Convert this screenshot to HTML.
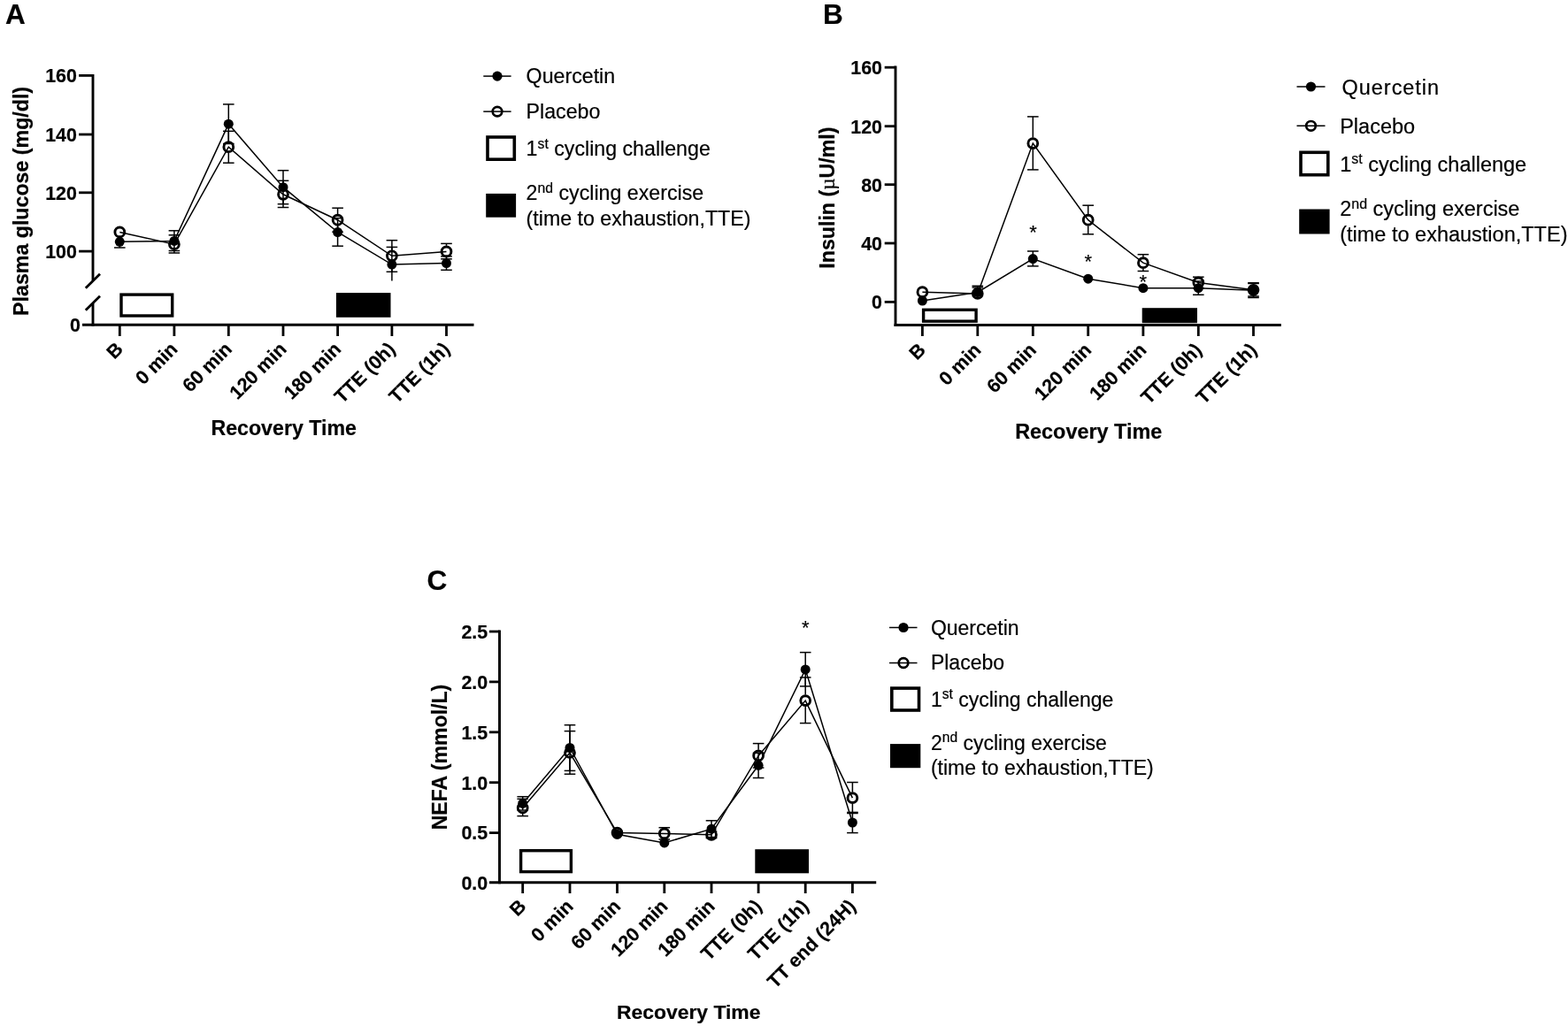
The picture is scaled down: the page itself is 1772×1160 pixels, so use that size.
<!DOCTYPE html>
<html lang="en">
<head>
<meta charset="utf-8">
<title>Figure: plasma glucose, insulin and NEFA during recovery</title>
<style>
html,body{margin:0;padding:0;background:#fff;}
body{width:1772px;height:1160px;overflow:hidden;}
svg{display:block;}
text{white-space:pre;stroke:#000;stroke-width:0.2px;stroke-linejoin:round;}
.b{font-weight:bold;}
.n{font-weight:normal;}
</style>
</head>
<body>
<svg role="img" aria-label="Plasma glucose, insulin and NEFA during recovery: quercetin versus placebo" width="1772" height="1160" viewBox="0 0 1772 1160" font-family='"Liberation Sans", Arial, Helvetica, sans-serif' fill="#000">
<rect width="1772" height="1160" fill="#fff"/>
<g id="panelA">
<text class="b" x="6.00" y="27.40" font-size="31.5" text-anchor="start" >A</text>
<line x1="105.00" y1="84.00" x2="105.00" y2="317.50" stroke="#000" stroke-width="2.9" />
<line x1="105.00" y1="343.00" x2="105.00" y2="368.75" stroke="#000" stroke-width="2.9" />
<line x1="96.80" y1="325.80" x2="113.00" y2="309.80" stroke="#000" stroke-width="2.8" />
<line x1="96.80" y1="350.80" x2="113.00" y2="334.80" stroke="#000" stroke-width="2.8" />
<line x1="93.00" y1="367.30" x2="535.50" y2="367.30" stroke="#000" stroke-width="2.9" />
<line x1="89.10" y1="85.40" x2="105.00" y2="85.40" stroke="#000" stroke-width="2.8" />
<text class="b" x="86.90" y="93.20" font-size="21.4" text-anchor="end" >160</text>
<line x1="89.10" y1="152.00" x2="105.00" y2="152.00" stroke="#000" stroke-width="2.8" />
<text class="b" x="86.90" y="159.80" font-size="21.4" text-anchor="end" >140</text>
<line x1="89.10" y1="217.80" x2="105.00" y2="217.80" stroke="#000" stroke-width="2.8" />
<text class="b" x="86.90" y="225.60" font-size="21.4" text-anchor="end" >120</text>
<line x1="89.10" y1="284.10" x2="105.00" y2="284.10" stroke="#000" stroke-width="2.8" />
<text class="b" x="86.90" y="291.90" font-size="21.4" text-anchor="end" >100</text>
<text class="b" x="91.00" y="375.10" font-size="21.4" text-anchor="end" >0</text>
<line x1="135.30" y1="367.30" x2="135.30" y2="380.00" stroke="#000" stroke-width="2.8" />
<line x1="196.90" y1="367.30" x2="196.90" y2="380.00" stroke="#000" stroke-width="2.8" />
<line x1="258.30" y1="367.30" x2="258.30" y2="380.00" stroke="#000" stroke-width="2.8" />
<line x1="320.00" y1="367.30" x2="320.00" y2="380.00" stroke="#000" stroke-width="2.8" />
<line x1="381.60" y1="367.30" x2="381.60" y2="380.00" stroke="#000" stroke-width="2.8" />
<line x1="442.90" y1="367.30" x2="442.90" y2="380.00" stroke="#000" stroke-width="2.8" />
<line x1="504.50" y1="367.30" x2="504.50" y2="380.00" stroke="#000" stroke-width="2.8" />
<text class="b" x="140.30" y="396.00" font-size="21.6" text-anchor="end" transform="rotate(-45 140.30 396.00)" >B</text>
<text class="b" x="201.90" y="396.00" font-size="21.6" text-anchor="end" transform="rotate(-45 201.90 396.00)" >0 min</text>
<text class="b" x="263.30" y="396.00" font-size="21.6" text-anchor="end" transform="rotate(-45 263.30 396.00)" >60 min</text>
<text class="b" x="325.00" y="396.00" font-size="21.6" text-anchor="end" transform="rotate(-45 325.00 396.00)" >120 min</text>
<text class="b" x="386.60" y="396.00" font-size="21.6" text-anchor="end" transform="rotate(-45 386.60 396.00)" >180 min</text>
<text class="b" x="447.90" y="396.00" font-size="21.6" text-anchor="end" transform="rotate(-45 447.90 396.00)" >TTE (0h)</text>
<text class="b" x="509.50" y="396.00" font-size="21.6" text-anchor="end" transform="rotate(-45 509.50 396.00)" >TTE (1h)</text>
<text class="b" x="320.70" y="492.00" font-size="23.2" text-anchor="middle" >Recovery Time</text>
<text class="b" x="32.20" y="227.40" font-size="23.2" text-anchor="middle" transform="rotate(-90 32.20 227.40)" >Plasma glucose (mg/dl)</text>
<rect x="137.00" y="333.10" width="57.70" height="23.90" fill="#fff" stroke="#000" stroke-width="3.4"/>
<rect x="379.90" y="331.10" width="61.60" height="27.70" fill="#000"/>
<line x1="135.30" y1="273.30" x2="135.30" y2="280.00" stroke="#000" stroke-width="1.5" />
<line x1="129.00" y1="280.00" x2="141.60" y2="280.00" stroke="#000" stroke-width="1.5" />
<line x1="196.90" y1="272.40" x2="196.90" y2="260.80" stroke="#000" stroke-width="1.5" />
<line x1="190.60" y1="260.80" x2="203.20" y2="260.80" stroke="#000" stroke-width="1.5" />
<line x1="196.90" y1="272.40" x2="196.90" y2="283.50" stroke="#000" stroke-width="1.5" />
<line x1="190.60" y1="283.50" x2="203.20" y2="283.50" stroke="#000" stroke-width="1.5" />
<line x1="196.90" y1="269.65" x2="196.90" y2="265.80" stroke="#000" stroke-width="1.5" />
<line x1="190.60" y1="265.80" x2="203.20" y2="265.80" stroke="#000" stroke-width="1.5" />
<line x1="196.90" y1="282.75" x2="196.90" y2="286.00" stroke="#000" stroke-width="1.5" />
<line x1="190.60" y1="286.00" x2="203.20" y2="286.00" stroke="#000" stroke-width="1.5" />
<line x1="258.30" y1="140.20" x2="258.30" y2="117.90" stroke="#000" stroke-width="1.5" />
<line x1="252.00" y1="117.90" x2="264.60" y2="117.90" stroke="#000" stroke-width="1.5" />
<line x1="258.30" y1="140.20" x2="258.30" y2="162.50" stroke="#000" stroke-width="1.5" />
<line x1="252.00" y1="162.50" x2="264.60" y2="162.50" stroke="#000" stroke-width="1.5" />
<line x1="258.30" y1="159.65" x2="258.30" y2="148.30" stroke="#000" stroke-width="1.5" />
<line x1="252.00" y1="148.30" x2="264.60" y2="148.30" stroke="#000" stroke-width="1.5" />
<line x1="258.30" y1="172.75" x2="258.30" y2="184.20" stroke="#000" stroke-width="1.5" />
<line x1="252.00" y1="184.20" x2="264.60" y2="184.20" stroke="#000" stroke-width="1.5" />
<line x1="320.00" y1="211.70" x2="320.00" y2="192.70" stroke="#000" stroke-width="1.5" />
<line x1="313.70" y1="192.70" x2="326.30" y2="192.70" stroke="#000" stroke-width="1.5" />
<line x1="320.00" y1="211.70" x2="320.00" y2="230.70" stroke="#000" stroke-width="1.5" />
<line x1="313.70" y1="230.70" x2="326.30" y2="230.70" stroke="#000" stroke-width="1.5" />
<line x1="320.00" y1="213.25" x2="320.00" y2="204.30" stroke="#000" stroke-width="1.5" />
<line x1="313.70" y1="204.30" x2="326.30" y2="204.30" stroke="#000" stroke-width="1.5" />
<line x1="320.00" y1="226.35" x2="320.00" y2="234.50" stroke="#000" stroke-width="1.5" />
<line x1="313.70" y1="234.50" x2="326.30" y2="234.50" stroke="#000" stroke-width="1.5" />
<line x1="381.60" y1="262.50" x2="381.60" y2="246.60" stroke="#000" stroke-width="1.5" />
<line x1="375.30" y1="246.60" x2="387.90" y2="246.60" stroke="#000" stroke-width="1.5" />
<line x1="381.60" y1="262.50" x2="381.60" y2="278.20" stroke="#000" stroke-width="1.5" />
<line x1="375.30" y1="278.20" x2="387.90" y2="278.20" stroke="#000" stroke-width="1.5" />
<line x1="381.60" y1="242.15" x2="381.60" y2="235.20" stroke="#000" stroke-width="1.5" />
<line x1="375.30" y1="235.20" x2="387.90" y2="235.20" stroke="#000" stroke-width="1.5" />
<line x1="381.60" y1="255.25" x2="381.60" y2="262.20" stroke="#000" stroke-width="1.5" />
<line x1="375.30" y1="262.20" x2="387.90" y2="262.20" stroke="#000" stroke-width="1.5" />
<line x1="442.90" y1="299.10" x2="442.90" y2="279.40" stroke="#000" stroke-width="1.5" />
<line x1="436.60" y1="279.40" x2="449.20" y2="279.40" stroke="#000" stroke-width="1.5" />
<line x1="442.90" y1="299.10" x2="442.90" y2="317.40" stroke="#000" stroke-width="1.5" />
<line x1="442.90" y1="282.75" x2="442.90" y2="271.70" stroke="#000" stroke-width="1.5" />
<line x1="436.60" y1="271.70" x2="449.20" y2="271.70" stroke="#000" stroke-width="1.5" />
<line x1="442.90" y1="295.85" x2="442.90" y2="307.30" stroke="#000" stroke-width="1.5" />
<line x1="436.60" y1="307.30" x2="449.20" y2="307.30" stroke="#000" stroke-width="1.5" />
<line x1="504.50" y1="297.60" x2="504.50" y2="289.90" stroke="#000" stroke-width="1.5" />
<line x1="498.20" y1="289.90" x2="510.80" y2="289.90" stroke="#000" stroke-width="1.5" />
<line x1="504.50" y1="297.60" x2="504.50" y2="305.30" stroke="#000" stroke-width="1.5" />
<line x1="498.20" y1="305.30" x2="510.80" y2="305.30" stroke="#000" stroke-width="1.5" />
<line x1="504.50" y1="277.85" x2="504.50" y2="275.40" stroke="#000" stroke-width="1.5" />
<line x1="498.20" y1="275.40" x2="510.80" y2="275.40" stroke="#000" stroke-width="1.5" />
<line x1="504.50" y1="290.95" x2="504.50" y2="292.80" stroke="#000" stroke-width="1.5" />
<line x1="498.20" y1="292.80" x2="510.80" y2="292.80" stroke="#000" stroke-width="1.5" />
<polyline fill="none" stroke="#000" stroke-width="1.5" stroke-linejoin="miter" points="135.30,273.30 196.90,272.40 258.30,140.20 320.00,211.70 381.60,262.50 442.90,299.10 504.50,297.60"/>
<polyline fill="none" stroke="#000" stroke-width="1.5" stroke-linejoin="miter" points="135.30,262.40 196.90,276.20 258.30,166.20 320.00,219.80 381.60,248.70 442.90,289.30 504.50,284.40"/>
<circle cx="135.30" cy="273.30" r="5.5" fill="#000"/>
<circle cx="196.90" cy="272.40" r="5.5" fill="#000"/>
<circle cx="258.30" cy="140.20" r="5.5" fill="#000"/>
<circle cx="320.00" cy="211.70" r="5.5" fill="#000"/>
<circle cx="381.60" cy="262.50" r="5.5" fill="#000"/>
<circle cx="442.90" cy="299.10" r="5.5" fill="#000"/>
<circle cx="504.50" cy="297.60" r="5.5" fill="#000"/>
<circle cx="135.30" cy="262.40" r="5.4" fill="none" stroke="#000" stroke-width="2.9"/>
<circle cx="196.90" cy="276.20" r="5.4" fill="none" stroke="#000" stroke-width="2.9"/>
<circle cx="258.30" cy="166.20" r="5.4" fill="none" stroke="#000" stroke-width="2.9"/>
<circle cx="320.00" cy="219.80" r="5.4" fill="none" stroke="#000" stroke-width="2.9"/>
<circle cx="381.60" cy="248.70" r="5.4" fill="none" stroke="#000" stroke-width="2.9"/>
<circle cx="442.90" cy="289.30" r="5.4" fill="none" stroke="#000" stroke-width="2.9"/>
<circle cx="504.50" cy="284.40" r="5.4" fill="none" stroke="#000" stroke-width="2.9"/>
<line x1="546.30" y1="86.10" x2="577.60" y2="86.10" stroke="#000" stroke-width="1.5" />
<circle cx="562.00" cy="86.10" r="5.6" fill="#000"/>
<text class="n" x="594.60" y="93.70" font-size="23.2" text-anchor="start" >Quercetin</text>
<line x1="546.30" y1="126.10" x2="577.60" y2="126.10" stroke="#000" stroke-width="1.5" />
<circle cx="562.00" cy="126.10" r="5.3" fill="none" stroke="#000" stroke-width="2.7"/>
<text class="n" x="594.60" y="134.10" font-size="23.2" text-anchor="start" >Placebo</text>
<rect x="551.00" y="155.00" width="30.30" height="25.20" fill="#fff" stroke="#000" stroke-width="3.6"/>
<text x="594.60" y="176.40" class="n" font-size="23.2">1<tspan font-size="15.78" dy="-8.35">st</tspan><tspan dy="8.35"> cycling challenge</tspan></text>
<rect x="549.20" y="218.90" width="33.90" height="26.80" fill="#000"/>
<text x="594.60" y="226.10" class="n" font-size="23.2">2<tspan font-size="15.78" dy="-8.35">nd</tspan><tspan dy="8.35"> cycling exercise</tspan></text>
<text class="n" x="594.60" y="254.70" font-size="23.2" text-anchor="start" >(time to exhaustion,TTE)</text>
</g>
<g id="panelB">
<text class="b" x="930.00" y="27.40" font-size="31.5" text-anchor="start" >B</text>
<line x1="1012.00" y1="74.50" x2="1012.00" y2="368.95" stroke="#000" stroke-width="2.9" />
<line x1="1010.55" y1="367.50" x2="1447.80" y2="367.50" stroke="#000" stroke-width="2.9" />
<line x1="999.70" y1="76.20" x2="1012.00" y2="76.20" stroke="#000" stroke-width="2.8" />
<text class="b" x="997.00" y="84.00" font-size="21.4" text-anchor="end" >160</text>
<line x1="999.70" y1="142.70" x2="1012.00" y2="142.70" stroke="#000" stroke-width="2.8" />
<text class="b" x="997.00" y="150.50" font-size="21.4" text-anchor="end" >120</text>
<line x1="999.70" y1="208.70" x2="1012.00" y2="208.70" stroke="#000" stroke-width="2.8" />
<text class="b" x="997.00" y="216.50" font-size="21.4" text-anchor="end" >80</text>
<line x1="999.70" y1="275.00" x2="1012.00" y2="275.00" stroke="#000" stroke-width="2.8" />
<text class="b" x="997.00" y="282.80" font-size="21.4" text-anchor="end" >40</text>
<line x1="999.70" y1="341.40" x2="1012.00" y2="341.40" stroke="#000" stroke-width="2.8" />
<text class="b" x="997.00" y="349.20" font-size="21.4" text-anchor="end" >0</text>
<line x1="1042.40" y1="367.50" x2="1042.40" y2="380.00" stroke="#000" stroke-width="2.8" />
<line x1="1104.80" y1="367.50" x2="1104.80" y2="380.00" stroke="#000" stroke-width="2.8" />
<line x1="1167.30" y1="367.50" x2="1167.30" y2="380.00" stroke="#000" stroke-width="2.8" />
<line x1="1229.70" y1="367.50" x2="1229.70" y2="380.00" stroke="#000" stroke-width="2.8" />
<line x1="1291.90" y1="367.50" x2="1291.90" y2="380.00" stroke="#000" stroke-width="2.8" />
<line x1="1354.30" y1="367.50" x2="1354.30" y2="380.00" stroke="#000" stroke-width="2.8" />
<line x1="1416.50" y1="367.50" x2="1416.50" y2="380.00" stroke="#000" stroke-width="2.8" />
<text class="b" x="1047.40" y="397.00" font-size="21.6" text-anchor="end" transform="rotate(-45 1047.40 397.00)" >B</text>
<text class="b" x="1109.80" y="397.00" font-size="21.6" text-anchor="end" transform="rotate(-45 1109.80 397.00)" >0 min</text>
<text class="b" x="1172.30" y="397.00" font-size="21.6" text-anchor="end" transform="rotate(-45 1172.30 397.00)" >60 min</text>
<text class="b" x="1234.70" y="397.00" font-size="21.6" text-anchor="end" transform="rotate(-45 1234.70 397.00)" >120 min</text>
<text class="b" x="1296.90" y="397.00" font-size="21.6" text-anchor="end" transform="rotate(-45 1296.90 397.00)" >180 min</text>
<text class="b" x="1359.30" y="397.00" font-size="21.6" text-anchor="end" transform="rotate(-45 1359.30 397.00)" >TTE (0h)</text>
<text class="b" x="1421.50" y="397.00" font-size="21.6" text-anchor="end" transform="rotate(-45 1421.50 397.00)" >TTE (1h)</text>
<text class="b" x="1230.20" y="495.80" font-size="23.4" text-anchor="middle" >Recovery Time</text>
<text x="943.3" y="223.6" class="b" font-size="23.2" text-anchor="middle" transform="rotate(-90 943.3 223.6)">Insulin (<tspan font-family='"Liberation Serif", "DejaVu Serif", serif' font-weight="normal">µ</tspan>U/ml)</text>
<rect x="1043.60" y="350.30" width="59.50" height="12.90" fill="#fff" stroke="#000" stroke-width="3.4"/>
<rect x="1290.70" y="348.20" width="62.30" height="17.00" fill="#000"/>
<line x1="1104.80" y1="330.50" x2="1104.80" y2="323.30" stroke="#000" stroke-width="1.5" />
<line x1="1098.50" y1="323.30" x2="1111.10" y2="323.30" stroke="#000" stroke-width="1.5" />
<line x1="1104.80" y1="325.35" x2="1104.80" y2="325.00" stroke="#000" stroke-width="1.5" />
<line x1="1098.50" y1="325.00" x2="1111.10" y2="325.00" stroke="#000" stroke-width="1.5" />
<line x1="1167.30" y1="292.60" x2="1167.30" y2="284.00" stroke="#000" stroke-width="1.5" />
<line x1="1161.00" y1="284.00" x2="1173.60" y2="284.00" stroke="#000" stroke-width="1.5" />
<line x1="1167.30" y1="292.60" x2="1167.30" y2="300.90" stroke="#000" stroke-width="1.5" />
<line x1="1161.00" y1="300.90" x2="1173.60" y2="300.90" stroke="#000" stroke-width="1.5" />
<line x1="1167.30" y1="155.55" x2="1167.30" y2="131.90" stroke="#000" stroke-width="1.5" />
<line x1="1161.00" y1="131.90" x2="1173.60" y2="131.90" stroke="#000" stroke-width="1.5" />
<line x1="1167.30" y1="168.65" x2="1167.30" y2="191.90" stroke="#000" stroke-width="1.5" />
<line x1="1161.00" y1="191.90" x2="1173.60" y2="191.90" stroke="#000" stroke-width="1.5" />
<line x1="1229.70" y1="242.15" x2="1229.70" y2="232.20" stroke="#000" stroke-width="1.5" />
<line x1="1223.40" y1="232.20" x2="1236.00" y2="232.20" stroke="#000" stroke-width="1.5" />
<line x1="1229.70" y1="255.25" x2="1229.70" y2="264.80" stroke="#000" stroke-width="1.5" />
<line x1="1223.40" y1="264.80" x2="1236.00" y2="264.80" stroke="#000" stroke-width="1.5" />
<line x1="1291.90" y1="290.65" x2="1291.90" y2="287.70" stroke="#000" stroke-width="1.5" />
<line x1="1285.60" y1="287.70" x2="1298.20" y2="287.70" stroke="#000" stroke-width="1.5" />
<line x1="1291.90" y1="303.75" x2="1291.90" y2="306.50" stroke="#000" stroke-width="1.5" />
<line x1="1285.60" y1="306.50" x2="1298.20" y2="306.50" stroke="#000" stroke-width="1.5" />
<line x1="1354.30" y1="325.70" x2="1354.30" y2="318.00" stroke="#000" stroke-width="1.5" />
<line x1="1348.00" y1="318.00" x2="1360.60" y2="318.00" stroke="#000" stroke-width="1.5" />
<line x1="1354.30" y1="325.70" x2="1354.30" y2="333.30" stroke="#000" stroke-width="1.5" />
<line x1="1348.00" y1="333.30" x2="1360.60" y2="333.30" stroke="#000" stroke-width="1.5" />
<line x1="1348.00" y1="313.20" x2="1360.60" y2="313.20" stroke="#000" stroke-width="1.5" />
<line x1="1348.00" y1="325.60" x2="1360.60" y2="325.60" stroke="#000" stroke-width="1.5" />
<line x1="1416.50" y1="328.30" x2="1416.50" y2="319.80" stroke="#000" stroke-width="1.5" />
<line x1="1410.20" y1="319.80" x2="1422.80" y2="319.80" stroke="#000" stroke-width="1.5" />
<line x1="1416.50" y1="328.30" x2="1416.50" y2="336.50" stroke="#000" stroke-width="1.5" />
<line x1="1410.20" y1="336.50" x2="1422.80" y2="336.50" stroke="#000" stroke-width="1.5" />
<line x1="1416.50" y1="321.25" x2="1416.50" y2="320.50" stroke="#000" stroke-width="1.5" />
<line x1="1410.20" y1="320.50" x2="1422.80" y2="320.50" stroke="#000" stroke-width="1.5" />
<line x1="1416.50" y1="334.35" x2="1416.50" y2="335.00" stroke="#000" stroke-width="1.5" />
<line x1="1410.20" y1="335.00" x2="1422.80" y2="335.00" stroke="#000" stroke-width="1.5" />
<polyline fill="none" stroke="#000" stroke-width="1.5" stroke-linejoin="miter" points="1042.40,340.00 1104.80,330.50 1167.30,292.60 1229.70,315.20 1291.90,325.70 1354.30,325.70 1416.50,328.30"/>
<polyline fill="none" stroke="#000" stroke-width="1.5" stroke-linejoin="miter" points="1042.40,330.20 1104.80,331.90 1167.30,162.10 1229.70,248.70 1291.90,297.20 1354.30,319.40 1416.50,327.80"/>
<circle cx="1042.40" cy="340.00" r="5.5" fill="#000"/>
<circle cx="1104.80" cy="330.50" r="5.5" fill="#000"/>
<circle cx="1167.30" cy="292.60" r="5.5" fill="#000"/>
<circle cx="1229.70" cy="315.20" r="5.5" fill="#000"/>
<circle cx="1291.90" cy="325.70" r="5.5" fill="#000"/>
<circle cx="1354.30" cy="325.70" r="5.5" fill="#000"/>
<circle cx="1416.50" cy="328.30" r="5.5" fill="#000"/>
<circle cx="1042.40" cy="330.20" r="5.4" fill="none" stroke="#000" stroke-width="2.9"/>
<circle cx="1104.80" cy="331.90" r="5.4" fill="none" stroke="#000" stroke-width="2.9"/>
<circle cx="1167.30" cy="162.10" r="5.4" fill="none" stroke="#000" stroke-width="2.9"/>
<circle cx="1229.70" cy="248.70" r="5.4" fill="none" stroke="#000" stroke-width="2.9"/>
<circle cx="1291.90" cy="297.20" r="5.4" fill="none" stroke="#000" stroke-width="2.9"/>
<circle cx="1354.30" cy="319.40" r="5.4" fill="none" stroke="#000" stroke-width="2.9"/>
<circle cx="1416.50" cy="327.80" r="5.4" fill="none" stroke="#000" stroke-width="2.9"/>
<text class="n" x="1167.50" y="270.10" font-size="22" text-anchor="middle" >*</text>
<text class="n" x="1229.70" y="303.30" font-size="22" text-anchor="middle" >*</text>
<text class="n" x="1291.90" y="325.70" font-size="22" text-anchor="middle" >*</text>
<line x1="1465.50" y1="98.00" x2="1497.50" y2="98.00" stroke="#000" stroke-width="1.5" />
<circle cx="1481.50" cy="98.00" r="5.6" fill="#000"/>
<text class="n" x="1514.20" y="107.00" font-size="23.5" text-anchor="start" textLength="109.5" lengthAdjust="spacing" dx="2.4">Quercetin</text>
<line x1="1465.50" y1="142.30" x2="1497.50" y2="142.30" stroke="#000" stroke-width="1.5" />
<circle cx="1481.50" cy="142.30" r="5.3" fill="none" stroke="#000" stroke-width="2.7"/>
<text class="n" x="1514.20" y="150.50" font-size="23.5" text-anchor="start" >Placebo</text>
<rect x="1470.00" y="172.30" width="30.80" height="25.40" fill="#fff" stroke="#000" stroke-width="3.6"/>
<text x="1514.20" y="193.50" class="n" font-size="23.5">1<tspan font-size="15.98" dy="-8.46">st</tspan><tspan dy="8.46"> cycling challenge</tspan></text>
<rect x="1468.20" y="236.50" width="34.40" height="28.00" fill="#000"/>
<text x="1514.20" y="244.00" class="n" font-size="23.5">2<tspan font-size="15.98" dy="-8.46">nd</tspan><tspan dy="8.46"> cycling exercise</tspan></text>
<text class="n" x="1514.20" y="273.00" font-size="23.5" text-anchor="start" >(time to exhaustion,TTE)</text>
</g>
<g id="panelC">
<text class="b" x="482.50" y="667.20" font-size="31.5" text-anchor="start" >C</text>
<line x1="564.50" y1="712.60" x2="564.50" y2="999.15" stroke="#000" stroke-width="2.9" />
<line x1="553.00" y1="997.70" x2="990.20" y2="997.70" stroke="#000" stroke-width="2.9" />
<line x1="553.00" y1="714.00" x2="564.50" y2="714.00" stroke="#000" stroke-width="2.8" />
<text class="b" x="551.20" y="721.80" font-size="21.4" text-anchor="end" >2.5</text>
<line x1="553.00" y1="770.90" x2="564.50" y2="770.90" stroke="#000" stroke-width="2.8" />
<text class="b" x="551.20" y="778.70" font-size="21.4" text-anchor="end" >2.0</text>
<line x1="553.00" y1="827.80" x2="564.50" y2="827.80" stroke="#000" stroke-width="2.8" />
<text class="b" x="551.20" y="835.60" font-size="21.4" text-anchor="end" >1.5</text>
<line x1="553.00" y1="884.70" x2="564.50" y2="884.70" stroke="#000" stroke-width="2.8" />
<text class="b" x="551.20" y="892.50" font-size="21.4" text-anchor="end" >1.0</text>
<line x1="553.00" y1="941.60" x2="564.50" y2="941.60" stroke="#000" stroke-width="2.8" />
<text class="b" x="551.20" y="949.40" font-size="21.4" text-anchor="end" >0.5</text>
<text class="b" x="551.20" y="1005.50" font-size="21.4" text-anchor="end" >0.0</text>
<line x1="590.70" y1="997.70" x2="590.70" y2="1010.00" stroke="#000" stroke-width="2.8" />
<line x1="644.00" y1="997.70" x2="644.00" y2="1010.00" stroke="#000" stroke-width="2.8" />
<line x1="697.50" y1="997.70" x2="697.50" y2="1010.00" stroke="#000" stroke-width="2.8" />
<line x1="750.80" y1="997.70" x2="750.80" y2="1010.00" stroke="#000" stroke-width="2.8" />
<line x1="804.00" y1="997.70" x2="804.00" y2="1010.00" stroke="#000" stroke-width="2.8" />
<line x1="857.10" y1="997.70" x2="857.10" y2="1010.00" stroke="#000" stroke-width="2.8" />
<line x1="910.20" y1="997.70" x2="910.20" y2="1010.00" stroke="#000" stroke-width="2.8" />
<line x1="963.40" y1="997.70" x2="963.40" y2="1010.00" stroke="#000" stroke-width="2.8" />
<text class="b" x="595.70" y="1026.00" font-size="21.6" text-anchor="end" transform="rotate(-45 595.70 1026.00)" >B</text>
<text class="b" x="649.00" y="1026.00" font-size="21.6" text-anchor="end" transform="rotate(-45 649.00 1026.00)" >0 min</text>
<text class="b" x="702.50" y="1026.00" font-size="21.6" text-anchor="end" transform="rotate(-45 702.50 1026.00)" >60 min</text>
<text class="b" x="755.80" y="1026.00" font-size="21.6" text-anchor="end" transform="rotate(-45 755.80 1026.00)" >120 min</text>
<text class="b" x="809.00" y="1026.00" font-size="21.6" text-anchor="end" transform="rotate(-45 809.00 1026.00)" >180 min</text>
<text class="b" x="862.10" y="1026.00" font-size="21.6" text-anchor="end" transform="rotate(-45 862.10 1026.00)" >TTE (0h)</text>
<text class="b" x="915.20" y="1026.00" font-size="21.6" text-anchor="end" transform="rotate(-45 915.20 1026.00)" >TTE (1h)</text>
<text class="b" x="968.40" y="1026.00" font-size="21.6" text-anchor="end" transform="rotate(-45 968.40 1026.00)" >TT end (24H)</text>
<text class="b" x="778.20" y="1151.50" font-size="22.9" text-anchor="middle" >Recovery Time</text>
<text class="b" x="504.60" y="856.00" font-size="23.1" text-anchor="middle" transform="rotate(-90 504.60 856.00)" >NEFA (mmol/L)</text>
<rect x="588.60" y="961.70" width="56.80" height="23.90" fill="#fff" stroke="#000" stroke-width="3.4"/>
<rect x="853.30" y="960.20" width="60.70" height="27.10" fill="#000"/>
<line x1="590.70" y1="908.40" x2="590.70" y2="900.70" stroke="#000" stroke-width="1.5" />
<line x1="584.40" y1="900.70" x2="597.00" y2="900.70" stroke="#000" stroke-width="1.5" />
<line x1="590.70" y1="908.40" x2="590.70" y2="916.00" stroke="#000" stroke-width="1.5" />
<line x1="584.40" y1="916.00" x2="597.00" y2="916.00" stroke="#000" stroke-width="1.5" />
<line x1="590.70" y1="906.85" x2="590.70" y2="903.30" stroke="#000" stroke-width="1.5" />
<line x1="584.40" y1="903.30" x2="597.00" y2="903.30" stroke="#000" stroke-width="1.5" />
<line x1="590.70" y1="919.95" x2="590.70" y2="922.60" stroke="#000" stroke-width="1.5" />
<line x1="584.40" y1="922.60" x2="597.00" y2="922.60" stroke="#000" stroke-width="1.5" />
<line x1="644.00" y1="845.50" x2="644.00" y2="819.70" stroke="#000" stroke-width="1.5" />
<line x1="637.70" y1="819.70" x2="650.30" y2="819.70" stroke="#000" stroke-width="1.5" />
<line x1="644.00" y1="845.50" x2="644.00" y2="871.40" stroke="#000" stroke-width="1.5" />
<line x1="637.70" y1="871.40" x2="650.30" y2="871.40" stroke="#000" stroke-width="1.5" />
<line x1="644.00" y1="844.45" x2="644.00" y2="826.60" stroke="#000" stroke-width="1.5" />
<line x1="637.70" y1="826.60" x2="650.30" y2="826.60" stroke="#000" stroke-width="1.5" />
<line x1="644.00" y1="857.55" x2="644.00" y2="875.20" stroke="#000" stroke-width="1.5" />
<line x1="637.70" y1="875.20" x2="650.30" y2="875.20" stroke="#000" stroke-width="1.5" />
<line x1="750.80" y1="935.85" x2="750.80" y2="935.70" stroke="#000" stroke-width="1.5" />
<line x1="744.50" y1="935.70" x2="757.10" y2="935.70" stroke="#000" stroke-width="1.5" />
<line x1="750.80" y1="948.95" x2="750.80" y2="949.00" stroke="#000" stroke-width="1.5" />
<line x1="744.50" y1="949.00" x2="757.10" y2="949.00" stroke="#000" stroke-width="1.5" />
<line x1="804.00" y1="937.20" x2="804.00" y2="927.80" stroke="#000" stroke-width="1.5" />
<line x1="797.70" y1="927.80" x2="810.30" y2="927.80" stroke="#000" stroke-width="1.5" />
<line x1="804.00" y1="937.20" x2="804.00" y2="946.50" stroke="#000" stroke-width="1.5" />
<line x1="797.70" y1="946.50" x2="810.30" y2="946.50" stroke="#000" stroke-width="1.5" />
<line x1="797.70" y1="940.00" x2="810.30" y2="940.00" stroke="#000" stroke-width="1.5" />
<line x1="797.70" y1="947.60" x2="810.30" y2="947.60" stroke="#000" stroke-width="1.5" />
<line x1="857.10" y1="865.30" x2="857.10" y2="851.30" stroke="#000" stroke-width="1.5" />
<line x1="850.80" y1="851.30" x2="863.40" y2="851.30" stroke="#000" stroke-width="1.5" />
<line x1="857.10" y1="865.30" x2="857.10" y2="879.50" stroke="#000" stroke-width="1.5" />
<line x1="850.80" y1="879.50" x2="863.40" y2="879.50" stroke="#000" stroke-width="1.5" />
<line x1="857.10" y1="847.85" x2="857.10" y2="840.60" stroke="#000" stroke-width="1.5" />
<line x1="850.80" y1="840.60" x2="863.40" y2="840.60" stroke="#000" stroke-width="1.5" />
<line x1="857.10" y1="860.95" x2="857.10" y2="868.00" stroke="#000" stroke-width="1.5" />
<line x1="850.80" y1="868.00" x2="863.40" y2="868.00" stroke="#000" stroke-width="1.5" />
<line x1="910.20" y1="756.90" x2="910.20" y2="737.60" stroke="#000" stroke-width="1.5" />
<line x1="903.90" y1="737.60" x2="916.50" y2="737.60" stroke="#000" stroke-width="1.5" />
<line x1="910.20" y1="756.90" x2="910.20" y2="775.90" stroke="#000" stroke-width="1.5" />
<line x1="903.90" y1="775.90" x2="916.50" y2="775.90" stroke="#000" stroke-width="1.5" />
<line x1="910.20" y1="785.55" x2="910.20" y2="765.90" stroke="#000" stroke-width="1.5" />
<line x1="903.90" y1="765.90" x2="916.50" y2="765.90" stroke="#000" stroke-width="1.5" />
<line x1="910.20" y1="798.65" x2="910.20" y2="817.60" stroke="#000" stroke-width="1.5" />
<line x1="903.90" y1="817.60" x2="916.50" y2="817.60" stroke="#000" stroke-width="1.5" />
<line x1="963.40" y1="930.00" x2="963.40" y2="918.40" stroke="#000" stroke-width="1.5" />
<line x1="957.10" y1="918.40" x2="969.70" y2="918.40" stroke="#000" stroke-width="1.5" />
<line x1="963.40" y1="930.00" x2="963.40" y2="941.60" stroke="#000" stroke-width="1.5" />
<line x1="957.10" y1="941.60" x2="969.70" y2="941.60" stroke="#000" stroke-width="1.5" />
<line x1="963.40" y1="895.55" x2="963.40" y2="884.50" stroke="#000" stroke-width="1.5" />
<line x1="957.10" y1="884.50" x2="969.70" y2="884.50" stroke="#000" stroke-width="1.5" />
<line x1="963.40" y1="908.65" x2="963.40" y2="919.50" stroke="#000" stroke-width="1.5" />
<line x1="957.10" y1="919.50" x2="969.70" y2="919.50" stroke="#000" stroke-width="1.5" />
<polyline fill="none" stroke="#000" stroke-width="1.5" stroke-linejoin="miter" points="590.70,908.40 644.00,845.50 697.50,943.30 750.80,952.90 804.00,937.20 857.10,865.30 910.20,756.90 963.40,930.00"/>
<polyline fill="none" stroke="#000" stroke-width="1.5" stroke-linejoin="miter" points="590.70,913.40 644.00,851.00 697.50,941.60 750.80,942.40 804.00,943.80 857.10,854.40 910.20,792.10 963.40,902.10"/>
<circle cx="590.70" cy="908.40" r="5.5" fill="#000"/>
<circle cx="644.00" cy="845.50" r="5.5" fill="#000"/>
<circle cx="697.50" cy="943.30" r="5.5" fill="#000"/>
<circle cx="750.80" cy="952.90" r="5.5" fill="#000"/>
<circle cx="804.00" cy="937.20" r="5.5" fill="#000"/>
<circle cx="857.10" cy="865.30" r="5.5" fill="#000"/>
<circle cx="910.20" cy="756.90" r="5.5" fill="#000"/>
<circle cx="963.40" cy="930.00" r="5.5" fill="#000"/>
<circle cx="590.70" cy="913.40" r="5.4" fill="none" stroke="#000" stroke-width="2.9"/>
<circle cx="644.00" cy="851.00" r="5.4" fill="none" stroke="#000" stroke-width="2.9"/>
<circle cx="697.50" cy="941.60" r="5.4" fill="none" stroke="#000" stroke-width="2.9"/>
<circle cx="750.80" cy="942.40" r="5.4" fill="none" stroke="#000" stroke-width="2.9"/>
<circle cx="804.00" cy="943.80" r="5.4" fill="none" stroke="#000" stroke-width="2.9"/>
<circle cx="857.10" cy="854.40" r="5.4" fill="none" stroke="#000" stroke-width="2.9"/>
<circle cx="910.20" cy="792.10" r="5.4" fill="none" stroke="#000" stroke-width="2.9"/>
<circle cx="963.40" cy="902.10" r="5.4" fill="none" stroke="#000" stroke-width="2.9"/>
<text class="n" x="910.20" y="716.80" font-size="22" text-anchor="middle" >*</text>
<line x1="1005.00" y1="709.50" x2="1036.50" y2="709.50" stroke="#000" stroke-width="1.5" />
<circle cx="1021.00" cy="709.50" r="5.6" fill="#000"/>
<text class="n" x="1051.90" y="718.00" font-size="23.0" text-anchor="start" >Quercetin</text>
<line x1="1005.00" y1="749.50" x2="1036.50" y2="749.50" stroke="#000" stroke-width="1.5" />
<circle cx="1021.00" cy="749.50" r="5.3" fill="none" stroke="#000" stroke-width="2.7"/>
<text class="n" x="1051.90" y="757.30" font-size="23.0" text-anchor="start" >Placebo</text>
<rect x="1007.80" y="778.10" width="30.70" height="24.90" fill="#fff" stroke="#000" stroke-width="3.6"/>
<text x="1051.90" y="798.70" class="n" font-size="23.0">1<tspan font-size="15.64" dy="-8.28">st</tspan><tspan dy="8.28"> cycling challenge</tspan></text>
<rect x="1006.00" y="841.10" width="34.30" height="27.10" fill="#000"/>
<text x="1051.90" y="847.50" class="n" font-size="23.0">2<tspan font-size="15.64" dy="-8.28">nd</tspan><tspan dy="8.28"> cycling exercise</tspan></text>
<text class="n" x="1051.90" y="876.20" font-size="23.0" text-anchor="start" >(time to exhaustion,TTE)</text>
</g>
</svg>
</body>
</html>
